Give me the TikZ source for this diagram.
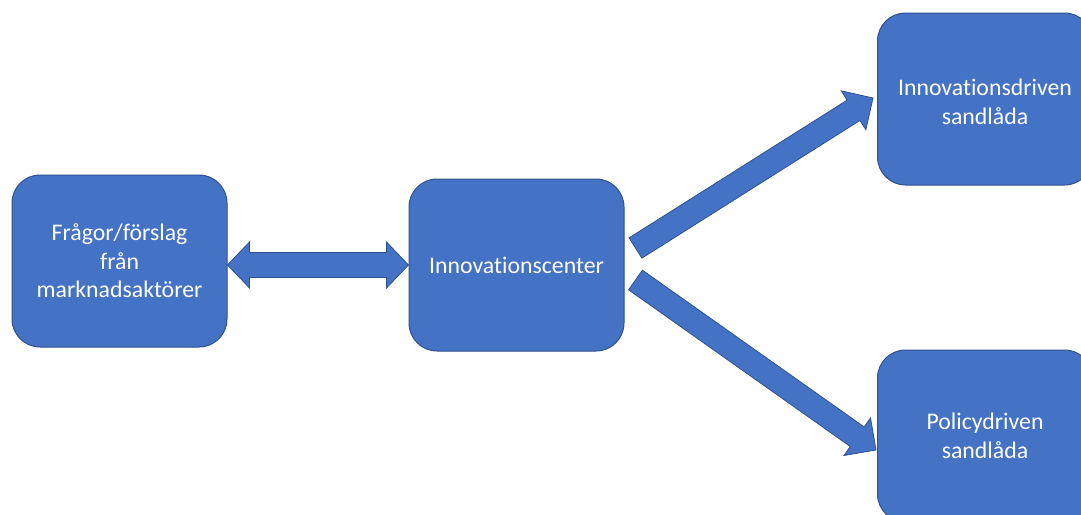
\documentclass[tikz,border=0pt]{standalone}
\usepackage{fontspec}
\setmainfont{Carlito}[Ligatures=NoCommon]
\usetikzlibrary{calc}
\definecolor{boxfill}{HTML}{4472C4}
\definecolor{boxline}{HTML}{2F528F}
\tikzset{
  box/.style={draw=boxline, line width=1pt, fill=boxfill, rounded corners=28pt,
    minimum width=215pt, minimum height=172pt, text=white, align=center,
    font=\fontsize{23.8}{28.5}\selectfont, inner sep=0pt},
  blk/.style={draw=boxline, line width=0.8pt, fill=boxfill, line join=miter},
}
% single block arrow from #1 to #2
\newcommand\blockarrow[2]{%
  \coordinate (#1#2h) at ($(#2)!23pt!(#1)$);
  \draw[blk] ($(#1)!12pt!90:(#2)$) -- ($(#1#2h)!12pt!90:(#2)$) -- ($(#1#2h)!23pt!90:(#2)$)
    -- (#2) -- ($(#1#2h)!23pt!-90:(#2)$) -- ($(#1#2h)!12pt!-90:(#2)$) -- ($(#1)!12pt!-90:(#2)$) -- cycle;
}
% double block arrow between #1 and #2
\newcommand\doubleblockarrow[2]{%
  \coordinate (#1#2hs) at ($(#1)!22pt!(#2)$);
  \coordinate (#1#2ht) at ($(#2)!22pt!(#1)$);
  \draw[blk] (#1) -- ($(#1#2hs)!23pt!90:(#2)$) -- ($(#1#2hs)!12.5pt!90:(#2)$)
    -- ($(#1#2ht)!12.5pt!90:(#2)$) -- ($(#1#2ht)!23pt!90:(#2)$) -- (#2)
    -- ($(#1#2ht)!23pt!-90:(#2)$) -- ($(#1#2ht)!12.5pt!-90:(#2)$)
    -- ($(#1#2hs)!12.5pt!-90:(#2)$) -- ($(#1#2hs)!23pt!-90:(#2)$) -- cycle;
}
\begin{document}
\begin{tikzpicture}[x=1pt, y=-1pt]
  \useasboundingbox (0,0) rectangle (1081,514);
  \node[box] (fragor) at (119.5,261) {Frågor/förslag\\från\\marknadsaktörer};
  \node[box] (center) at (516.5,265) {Innovationscenter};
  \node[box] (innov) at (985,99) {\raisebox{-12pt}[0pt][0pt]{\begin{tabular}{@{}c@{}}Innovationsdriven\\[0.5pt]sandlåda\end{tabular}}};
  \node[box] (policy) at (985,436) {Policydriven\\sandlåda};

  \coordinate (dl) at (fragor.east |- center.west);
  \coordinate (dr) at (center.west);
  \doubleblockarrow{dl}{dr}

  \coordinate (ua) at ($(center.east)+(11,-17)$);
  \coordinate (ub) at ($(innov.west)+(-4,-1)$);
  \blockarrow{ua}{ub}

  \coordinate (la) at ($(center.east)+(11,15)$);
  \coordinate (lb) at ($(policy.west)+(-1,14)$);
  \blockarrow{la}{lb}
\end{tikzpicture}
\end{document}
